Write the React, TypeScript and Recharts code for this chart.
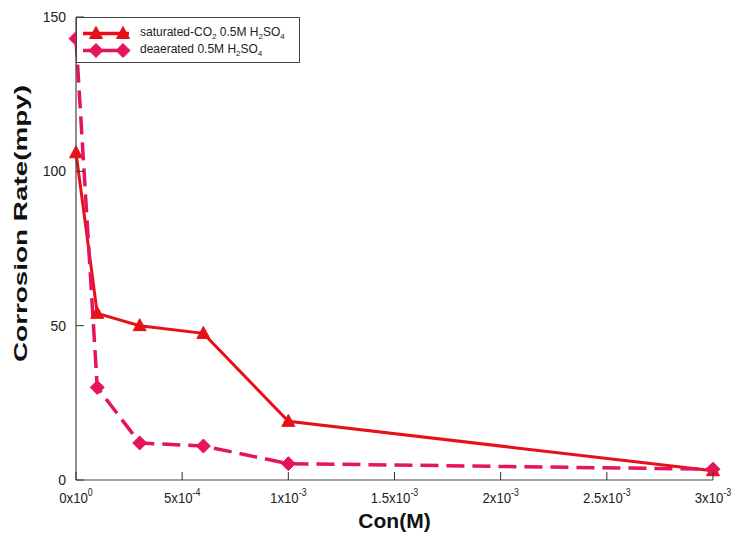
import React from "react";
import { LineChart, Line, XAxis, YAxis, Legend } from "recharts";

const FONT = "'Liberation Sans', Arial, sans-serif";

const concentration = [0, 0.0001, 0.0003, 0.0006, 0.001, 0.003];
const saturatedRate = [106, 54, 50, 47.5, 19, 3];
const deaeratedRate = [143, 30, 12, 11, 5.3, 3.5];

const xTicks = [0, 0.0005, 0.001, 0.0015, 0.002, 0.0025, 0.003];
const xTickMantissa = ["0", "5", "1", "1.5", "2", "2.5", "3"];
const xTickExponent = ["0", "-4", "-3", "-3", "-3", "-3", "-3"];
const yTicks = [0, 50, 100, 150];

// legend labels: [text, subscript, text, subscript, ...]
const saturatedLabel = ["saturated-CO", "2", " 0.5M H", "2", "SO", "4"];
const deaeratedLabel = ["deaerated 0.5M H", "2", "SO", "4"];

const RED = "#e81018";
const PINK = "#e4145e";

const series = [
  { key: "saturated", label: saturatedLabel, color: RED, shape: "triangle" },
  { key: "deaerated", label: deaeratedLabel, color: PINK, shape: "diamond" },
];

const rows = concentration.map((c, i) => ({
  c,
  saturated: saturatedRate[i],
  deaerated: deaeratedRate[i],
}));

function Triangle({ cx, cy, color }: { cx?: number; cy?: number; color: string }) {
  if (cx == null || cy == null) return null;
  return (
    <polygon
      points={`${cx},${cy - 7} ${cx - 6.5},${cy + 5} ${cx + 6.5},${cy + 5}`}
      fill={color}
      stroke={color}
      strokeWidth={1}
    />
  );
}

function Diamond({ cx, cy, color }: { cx?: number; cy?: number; color: string }) {
  if (cx == null || cy == null) return null;
  return (
    <polygon
      points={`${cx},${cy - 7} ${cx + 7},${cy} ${cx},${cy + 7} ${cx - 7},${cy}`}
      fill={color}
      stroke={color}
      strokeWidth={1}
    />
  );
}

function XTick({ x, y, payload }: any) {
  const i = xTicks.indexOf(payload.value);
  return (
    <g>
      <line x1={x} x2={x} y1={y} y2={y - 8} stroke="#333" strokeWidth={1} />
      <text
        x={x}
        y={y + 23}
        textAnchor="middle"
        fontFamily={FONT}
        fontSize={15}
        fill="#222"
        transform={`translate(${x} ${y + 23}) scale(0.88 1) translate(${-x} ${-(y + 23)})`}
      >
        {xTickMantissa[i]}x10
        <tspan dy={-7} fontSize={10}>
          {xTickExponent[i]}
        </tspan>
      </text>
    </g>
  );
}

function YTick({ x, y, payload }: any) {
  return (
    <g>
      <line x1={x} x2={x + 8} y1={y} y2={y} stroke="#333" strokeWidth={1} />
      <text x={x - 10} y={y + 5} textAnchor="end" fontFamily={FONT} fontSize={14} fill="#222">
        {payload.value}
      </text>
    </g>
  );
}

function YTitle({ viewBox }: any) {
  const cx = viewBox.x + 20;
  const cy = viewBox.y + viewBox.height / 2 - 25;
  return (
    <text
      x={cx}
      y={cy}
      transform={`rotate(-90 ${cx} ${cy})`}
      textAnchor="middle"
      dominantBaseline="central"
      fontFamily={FONT}
      fontWeight="bold"
      fontSize={19}
      textLength={277}
      lengthAdjust="spacingAndGlyphs"
      fill="#111"
    >
      Corrosion Rate(mpy)
    </text>
  );
}

function XTitle({ viewBox }: any) {
  return (
    <text
      x={viewBox.x + viewBox.width / 2}
      y={viewBox.y + 48}
      textAnchor="middle"
      fontFamily={FONT}
      fontWeight="bold"
      fontSize={21}
      fill="#111"
    >
      Con(M)
    </text>
  );
}

function LegendBox() {
  return (
    <div
      style={{
        border: "1px solid #444",
        background: "#fff",
        boxSizing: "border-box",
        width: 224,
        height: 46,
        paddingTop: 7,
        fontFamily: FONT,
        fontSize: 12,
        color: "#222",
      }}
    >
      {series.map((s) => (
        <div key={s.key} style={{ display: "flex", alignItems: "center", height: 17 }}>
          <svg width={63} height={17} style={{ flex: "none" }}>
            <line x1={6} x2={52} y1={8.5} y2={8.5} stroke={s.color} strokeWidth={3.5} />
            {s.shape === "triangle" ? (
              <>
                <Triangle cx={19} cy={8.5} color={s.color} />
                <Triangle cx={46} cy={8.5} color={s.color} />
              </>
            ) : (
              <>
                <Diamond cx={19} cy={8.5} color={s.color} />
                <Diamond cx={46} cy={8.5} color={s.color} />
              </>
            )}
          </svg>
          <span style={{ whiteSpace: "nowrap" }}>
            {s.label.map((part, i) =>
              i % 2 === 1 ? (
                <sub key={i} style={{ fontSize: 8 }}>
                  {part}
                </sub>
              ) : (
                <span key={i}>{part}</span>
              )
            )}
          </span>
        </div>
      ))}
    </div>
  );
}

function XTitleLabel(props: any) {
  return <XTitle viewBox={props.viewBox} />;
}

function YTitleLabel(props: any) {
  return <YTitle viewBox={props.viewBox} />;
}

export default function App() {
  return (
    <div style={{ position: "absolute", left: 0, top: 0, background: "#fff" }}>
      <LineChart width={735} height={533} data={rows} margin={{ top: 17, right: 22, left: 0, bottom: 0 }}>
        <XAxis
          dataKey="c"
          type="number"
          domain={[0, 0.003]}
          ticks={xTicks}
          tick={<XTick />}
          tickLine={false}
          tickSize={0}
          tickMargin={0}
          height={53}
          axisLine={{ stroke: "#444", strokeWidth: 1.2 }}
          label={<XTitleLabel />}
        />
        <XAxis
          xAxisId="top"
          orientation="top"
          type="number"
          domain={[0, 0.003]}
          height={0}
          tick={false}
          tickLine={false}
          axisLine={{ stroke: "#444", strokeWidth: 1.2 }}
        />
        <YAxis
          type="number"
          domain={[0, 150]}
          ticks={yTicks}
          tick={<YTick />}
          tickLine={false}
          tickSize={0}
          tickMargin={0}
          width={76}
          axisLine={{ stroke: "#444", strokeWidth: 1.2 }}
          label={<YTitleLabel />}
        />
        <YAxis
          yAxisId="right"
          orientation="right"
          type="number"
          domain={[0, 150]}
          width={0}
          tick={false}
          tickLine={false}
          axisLine={{ stroke: "#444", strokeWidth: 1.2 }}
        />
        <Legend
          layout="horizontal"
          verticalAlign="middle"
          align="center"
          wrapperStyle={{ left: 76, top: 17, width: 224 }}
          content={<LegendBox />}
        />
        <Line
          dataKey="saturated"
          name="saturated-CO2 0.5M H2SO4"
          stroke={RED}
          strokeWidth={3}
          dot={(p: any) => <Triangle key={p.index} cx={p.cx} cy={p.cy} color={RED} />}
          isAnimationActive={false}
        />
        <Line
          dataKey="deaerated"
          name="deaerated 0.5M H2SO4"
          stroke={PINK}
          strokeWidth={3.5}
          strokeDasharray="18 8"
          dot={(p: any) => <Diamond key={p.index} cx={p.cx} cy={p.cy} color={PINK} />}
          isAnimationActive={false}
        />
      </LineChart>
    </div>
  );
}
